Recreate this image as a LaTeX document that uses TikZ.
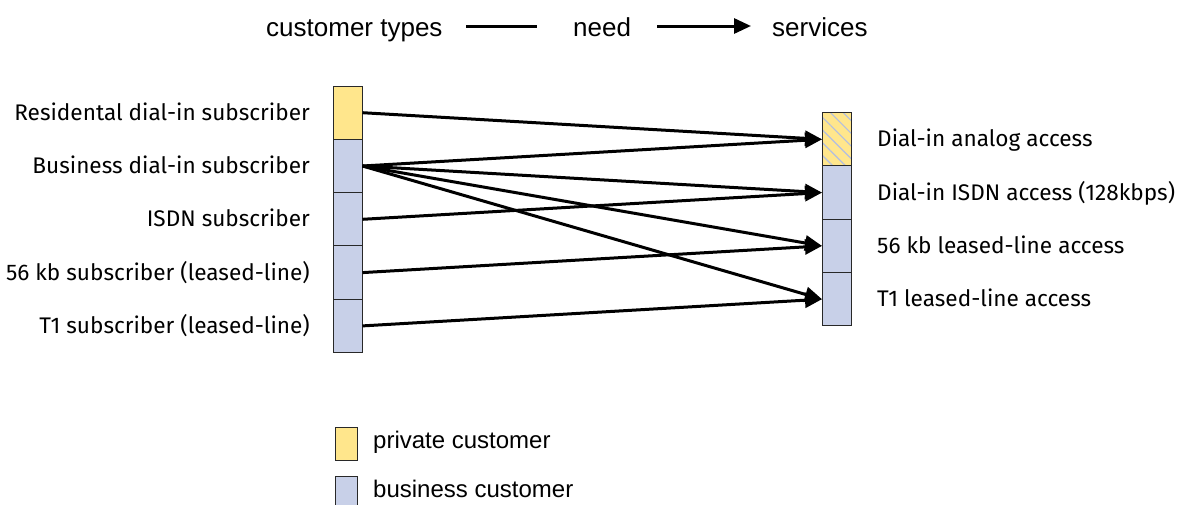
\documentclass[tikz,border=0pt]{standalone}
\usepackage{fontspec}
\setmainfont{Liberation Sans}
\newfontfamily\labelfont{Fira Sans}
\usetikzlibrary{arrows.meta,patterns.meta}
\definecolor{privfill}{RGB}{255,230,140}
\definecolor{busfill}{RGB}{200,208,232}
\definecolor{hatchline}{RGB}{178,190,225}
\definecolor{cellline}{RGB}{40,40,40}

\begin{document}
\begin{tikzpicture}[x=1pt,y=-1pt,
  cell/.style={draw=cellline,line width=1pt,minimum width=29pt,
    minimum height=53.3pt,inner sep=0pt,outer sep=0pt},
  priv/.style={cell,fill=privfill},
  bus/.style={cell,fill=busfill},
  mixed/.style={cell,preaction={fill=privfill},
    pattern={Lines[angle=-45,distance=9pt,line width=1.2pt]},
    pattern color=hatchline},
  conn/.style={line width=3pt,-{Triangle[length=17pt,width=15pt]}},
  plainconn/.style={line width=3pt},
  lefttext/.style={anchor=mid east,inner sep=0pt,
    font=\labelfont\fontsize{22.6}{27}\selectfont},
  righttext/.style={anchor=mid west,inner sep=0pt,
    font=\labelfont\fontsize{22.6}{27}\selectfont},
  headtext/.style={anchor=mid west,inner sep=0pt,
    font=\fontsize{26}{30}\selectfont},
  keytext/.style={anchor=mid west,inner sep=0pt,
    font=\fontsize{24}{28}\selectfont},
  keybox/.style={draw=cellline,line width=0.9pt,minimum width=22pt,
    minimum height=33pt,inner sep=0pt}
]
\useasboundingbox (0,0) rectangle (1192,504);

% heading: customer types -- need --> services
\node[headtext] (ct) at (266,34) {customer types};
\node[headtext] (nd) at (573,34) {need};
\node[headtext] (sv) at (772,34) {services};
\coordinate (a1) at (466,26);
\coordinate (a2) at (537,26);
\coordinate (b1) at (657,26);
\coordinate (b2) at (751,26);
\draw[plainconn] (a1) -- (a2);
\draw[conn] (b1) -- (b2);

% customer type column
\node[priv] (L1) at (348,112.7) {};
\node[bus]  (L2) at (348,166.0) {};
\node[bus]  (L3) at (348,219.3) {};
\node[bus]  (L4) at (348,272.6) {};
\node[bus]  (L5) at (348,325.9) {};

\node[lefttext] (t1) at (310,117.7) {Residental dial-in subscriber};
\node[lefttext] (t2) at (310,171.0) {Business dial-in subscriber};
\node[lefttext] (t3) at (310,224.3) {ISDN subscriber};
\node[lefttext] (t4) at (310,277.6) {56 kb subscriber (leased-line)};
\node[lefttext] (t5) at (310,330.9) {T1 subscriber (leased-line)};

% service column
\node[mixed] (R1) at (836.5,139.3) {};
\node[bus]   (R2) at (836.5,192.6) {};
\node[bus]   (R3) at (836.5,245.9) {};
\node[bus]   (R4) at (836.5,299.2) {};

\node[righttext] (s1) at (877,144.3) {Dial-in analog access};
\node[righttext] (s2) at (877,197.6) {Dial-in ISDN access (128kbps)};
\node[righttext] (s3) at (877,250.9) {56 kb leased-line access};
\node[righttext] (s4) at (877,304.2) {T1 leased-line access};

% needs
\draw[conn] (L1.east) -- (R1.west);
\draw[conn] (L2.east) -- (R1.west);
\draw[conn] (L2.east) -- (R2.west);
\draw[conn] (L2.east) -- (R3.west);
\draw[conn] (L2.east) -- (R4.west);
\draw[conn] (L3.east) -- (R2.west);
\draw[conn] (L4.east) -- (R3.west);
\draw[conn] (L5.east) -- (R4.west);

% key
\node[keybox,fill=privfill] (k1) at (346,443.5) {};
\node[keytext] (k1t) at (373,446) {private customer};
\node[keybox,fill=busfill] (k2) at (346,492.5) {};
\node[keytext] (k2t) at (373,495) {business customer};
\end{tikzpicture}
\end{document}
